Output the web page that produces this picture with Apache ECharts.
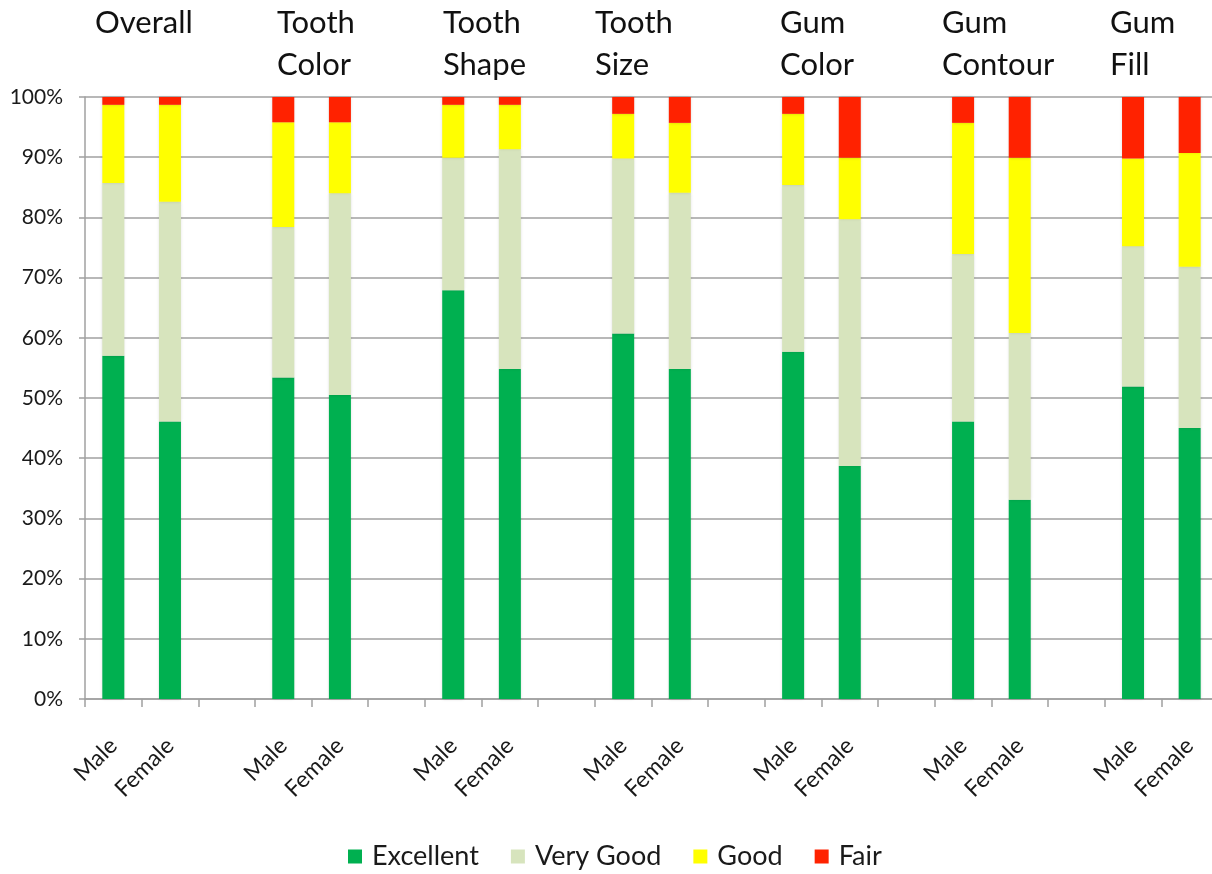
<!DOCTYPE html>
<html>
<head>
<meta charset="utf-8">
<title>Rating by aspect and gender</title>
<script src="https://cdn.jsdelivr.net/npm/echarts@6/dist/echarts.min.js"></script>
<style>
  html, body { margin: 0; padding: 0; background: #fff; overflow: hidden; }
  #chart { width: 1218px; height: 874px; }
</style>
</head>
<body>
<div id="chart"></div>
<script>
// Aspects rated, each split by gender
const groups = ['Overall', 'Tooth\nColor', 'Tooth\nShape', 'Tooth\nSize', 'Gum\nColor', 'Gum\nContour', 'Gum\nFill'];
const genders = ['Male', 'Female'];

// Share of ratings (%) per aspect, in Male, Female order
const excellent = [57.0, 46.1, 53.4, 50.5, 67.9, 54.8, 60.7, 54.8, 57.7, 38.7, 46.1, 33.1, 51.9, 45.0];
const veryGood  = [28.7, 36.5, 25.0, 33.5, 22.0, 36.5, 29.1, 29.3, 27.7, 41.0, 27.8, 27.7, 23.3, 26.8];
const good      = [13.0, 16.1, 17.4, 11.8,  8.8,  7.4,  7.4, 11.6, 11.8, 10.2, 21.8, 29.1, 14.6, 18.9];
const fair      = [ 1.3,  1.3,  4.2,  4.2,  1.3,  1.3,  2.8,  4.3,  2.8, 10.1,  4.3, 10.1, 10.2,  9.3];

const yTicks = [0, 10, 20, 30, 40, 50, 60, 70, 80, 90, 100];

// Left edge of each aspect heading, in px
const headingLeft = [95, 277, 443, 595, 780, 942, 1110];

const FONT = 'Lato, "Open Sans", sans-serif';

// Lay the bars out with one empty slot between aspects
const categories = [];
const slotOf = [];
groups.forEach((g, gi) => {
  genders.forEach((s) => {
    slotOf.push(categories.length);
    categories.push(s);
  });
  if (gi < groups.length - 1) categories.push('');
});

function spread(values) {
  const out = categories.map(() => null);
  values.forEach((v, i) => { out[slotOf[i]] = v; });
  return out;
}

const seriesDefs = [
  { name: 'Excellent', data: excellent, color: '#00B050' },
  { name: 'Very Good', data: veryGood,  color: '#D7E4BD' },
  { name: 'Good',      data: good,      color: '#FFFF00' },
  { name: 'Fair',      data: fair,      color: '#FF2200' }
];

const chart = echarts.init(document.getElementById('chart'));

chart.setOption({
  backgroundColor: '#ffffff',
  animation: false,
  textStyle: { fontFamily: FONT },
  grid: { left: 85, right: 0, top: 97, bottom: 175 },
  legend: {
    left: 343,
    top: 838,
    itemWidth: 14,
    itemHeight: 14,
    itemGap: 32,
    icon: 'rect',
    textStyle: { fontFamily: FONT, fontSize: 27, color: '#1a1a1a', padding: [0, 0, 0, 5] },
    data: seriesDefs.map(s => s.name)
  },
  xAxis: {
    type: 'category',
    data: categories,
    axisLine: { lineStyle: { color: '#a0a0a0', width: 1.5 } },
    axisTick: { show: true, length: 8, lineStyle: { color: '#a0a0a0', width: 1.5 } },
    axisLabel: {
      interval: 0,
      rotate: 45,
      margin: 43,
      fontFamily: FONT,
      fontSize: 23,
      color: '#1a1a1a'
    },
    splitLine: { show: false }
  },
  yAxis: {
    type: 'value',
    min: yTicks[0],
    max: yTicks[yTicks.length - 1],
    interval: 10,
    axisLine: { show: true, lineStyle: { color: '#a0a0a0', width: 1.5 } },
    axisTick: { show: true, length: 6, lineStyle: { color: '#a0a0a0', width: 1.5 } },
    axisLabel: {
      formatter: v => v + '%',
      margin: 22,
      fontFamily: FONT,
      fontSize: 21,
      color: '#1a1a1a'
    },
    splitLine: { show: true, lineStyle: { color: '#a0a0a0', width: 1.5 } }
  },
  series: seriesDefs.map(s => ({
    name: s.name,
    type: 'bar',
    stack: 'rating',
    barWidth: 22,
    data: spread(s.data),
    itemStyle: {
      color: s.color,
      shadowColor: 'rgba(0,0,0,0.18)',
      shadowBlur: 3
    }
  }))
});

// Aspect headings above each Male/Female pair
chart.setOption({
  graphic: groups.map((g, i) => ({
    type: 'text',
    left: headingLeft[i],
    top: 2,
    style: {
      text: g,
      fontFamily: FONT,
      fontSize: 31,
      lineHeight: 42,
      fill: '#111',
      align: 'left'
    }
  }))
});
</script>
</body>
</html>
